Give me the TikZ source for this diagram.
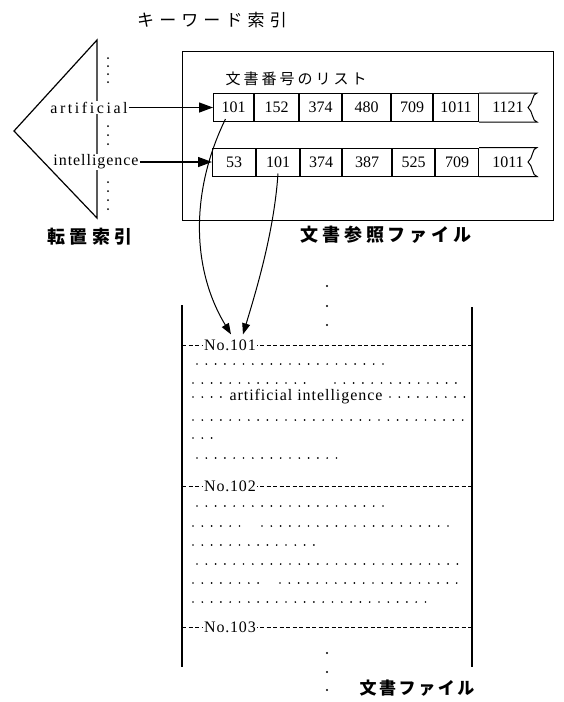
\documentclass[tikz,border=0pt]{standalone}
\usepackage{fontspec}
\setmainfont{Liberation Serif}
\newfontfamily\jp{Noto Sans CJK JP}
\usetikzlibrary{arrows.meta}
\newcommand\jpt[2]{\jp\fontsize{#1}{#1}\selectfont\addfontfeature{LetterSpace=#2}}
\newcommand\jptb[2]{\jp\bfseries\fontsize{#1}{#1}\selectfont\addfontfeature{LetterSpace=#2}}
\newcommand\latx[2]{\fontsize{#1}{#1}\selectfont\addfontfeature{LetterSpace=#2}}
\tikzset{
  cell/.style={draw, line width=1pt, minimum height=28pt, inner sep=0pt, anchor=west, font=\fontsize{16}{16}\selectfont},
  lastcell/.style={cell, draw=none},
  bigarrow/.style={line width=1.3pt, -{Triangle[length=14pt,width=10pt]}},
  curvearrow/.style={line width=1pt, -{Triangle[length=11pt,width=8pt]}},
  dashline/.style={line width=1pt, dash pattern=on 4pt off 2.5pt},
  dotline/.style={line width=1.9pt, line cap=round, dash pattern=on 0pt off 9.3pt},
  secno/.style={fill=white, inner sep=1pt, font=\latx{16}{5}},
}
\begin{document}
\begin{tikzpicture}[x=1pt,y=-1pt]
\useasboundingbox (0,0) rectangle (563,702);
\fill[white] (0,0) rectangle (563,702);

% title
\node[font=\jpt{17}{30}] (kw) at (212,20) {キーワード索引};

% inverted index triangle
\coordinate (tt) at (97,40);
\coordinate (ta) at (14,131);
\coordinate (tb) at (97,218);
\draw[line width=1.2pt, line join=miter] (tt) -- (ta) -- (tb) -- cycle;
\foreach \yy in {58,66,74,82,126,135,144,182,191,200,209}
  \fill (108,\yy) circle (1pt);
\node[fill=white, inner sep=1pt, font=\latx{16}{16}] (art) at (89,107.5) {artificial};
\node[fill=white, inner sep=1pt, font=\latx{16}{6}] (int) at (96,162) {intelligence};
\node[font=\jptb{18}{24}] (tenchi) at (90,237) {転置索引};

% reference file box
\node[draw, line width=1.2pt, minimum width=371pt, minimum height=169pt, inner sep=0pt, anchor=north west] (reffile) at (182,51) {};
\node[font=\jpt{15}{20}] (listtitle) at (296,79) {文書番号のリスト};

% row 1
\node[cell, minimum width=40pt] (a1) at (213,107.5) {101};
\node[cell, minimum width=44pt] (a2) at (a1.east) {152};
\node[cell, minimum width=42pt] (a3) at (a2.east) {374};
\node[cell, minimum width=48pt] (a4) at (a3.east) {480};
\node[cell, minimum width=41pt] (a5) at (a4.east) {709};
\node[cell, minimum width=45pt] (a6) at (a5.east) {1011};
\node[lastcell, minimum width=57pt] (a7) at (a6.east) {1121};
\draw[line width=1pt] (a7.north west) -- (a7.north east)
  .. controls +(-5,0.5) and +(5,-3.5) .. ([xshift=-9pt]a7.east)
  .. controls +(5,3.5) and +(-5,-0.5) .. (a7.south east) -- (a7.south west);

% row 2
\node[cell, minimum width=43pt] (b1) at (212,162) {53};
\node[cell, minimum width=43pt] (b2) at (b1.east) {101};
\node[cell, minimum width=41pt] (b3) at (b2.east) {374};
\node[cell, minimum width=49pt] (b4) at (b3.east) {387};
\node[cell, minimum width=42pt] (b5) at (b4.east) {525};
\node[cell, minimum width=43pt] (b6) at (b5.east) {709};
\node[lastcell, minimum width=57pt] (b7) at (b6.east) {1011};
\draw[line width=1pt] (b7.north west) -- (b7.north east)
  .. controls +(-5,0.5) and +(5,-3.5) .. ([xshift=-9pt]b7.east)
  .. controls +(5,3.5) and +(-5,-0.5) .. (b7.south east) -- (b7.south west);

\draw[bigarrow] (art) -- (a1);
\draw[bigarrow] (int) -- (b1);

\node[font=\jptb{18}{22}] (refname) at (386,235) {文書参照ファイル};

% document file
\foreach \yy in {286,306,325,653,672,690}
  \fill (327,\yy) circle (1.1pt);
\coordinate (dl1) at (182,305);
\coordinate (dl2) at (182,667);
\coordinate (dr1) at (472,307);
\coordinate (dr2) at (472,667);
\draw[line width=1.2pt] (dl1) -- (dl2);
\draw[line width=1.2pt] (dr1) -- (dr2);

\draw[dashline] (182,345) -- (472,345);
\draw[dashline] (182,486) -- (472,486);
\draw[dashline] (182,627) -- (472,627);
\node[secno] (n101) at (230,345) {No.101};
\node[secno] (n102) at (230,486) {No.102};
\node[secno] (n103) at (230,627) {No.103};

% text lines of document 101
\draw[dotline] (197,364) -- (385,364);
\draw[dotline] (193,383) -- (305,383);
\draw[dotline] (335,383) -- (456,383);
\draw[dotline] (193,397) -- (221,397);
\node[inner sep=1pt, font=\latx{16}{6}] (aitext) at (306,397) {artificial intelligence};
\draw[dotline] (390,397) -- (465,397);
\draw[dotline] (193,420) -- (465,420);
\draw[dotline] (193,438) -- (212,438);
\draw[dotline] (197,458) -- (339,458);
% text lines of document 102
\draw[dotline] (197,506) -- (385,506);
\draw[dotline] (193,526) -- (240,526);
\draw[dotline] (262,526) -- (448,526);
\draw[dotline] (193,545) -- (315,545);
\draw[dotline] (197,564) -- (458,564);
\draw[dotline] (193,583) -- (259,583);
\draw[dotline] (280,583) -- (458,583);
\draw[dotline] (193,602) -- (427,602);

% pointers from the lists to document 101
\draw[curvearrow] ([xshift=-8pt,yshift=3pt]a1.south)
  .. controls +(-35,71.5) and +(-40,-66) .. ([xshift=1pt,yshift=4pt]n101.north);
\draw[curvearrow] ([yshift=3pt]b2.south)
  .. controls +(-4,60) and +(12,-40) .. ([xshift=13pt,yshift=4pt]n101.north);

\node[font=\jptb{17}{15}] (docfile) at (417,688) {文書ファイル};
\end{tikzpicture}
\end{document}
